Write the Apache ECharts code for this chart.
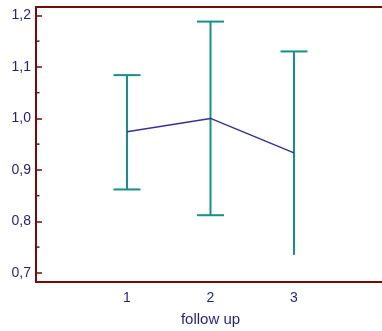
<!DOCTYPE html>
<html>
<head>
<meta charset="utf-8">
<script src="https://cdn.jsdelivr.net/npm/echarts@6/dist/echarts.min.js"></script>
<style>html,body{margin:0;padding:0;background:#fff}#c{width:382px;height:331px}</style>
</head>
<body>
<div id="c"></div>
<script>
var xValues = [1, 2, 3];
var means = [0.974, 1.000, 0.933];
var upper = [1.084, 1.188, 1.130];
var lower = [0.862, 0.812, 0.735];
var lowerCap = [true, true, false];
var yTicks = [0.7, 0.8, 0.9, 1.0, 1.1, 1.2];
var yMinorTicks = [0.75, 0.85, 0.95, 1.05, 1.15];
var xTicks = [1, 2, 3];
var xName = 'follow up';

var chart = echarts.init(document.getElementById('c'));
var labelColor = '#1f1f8a';
var axisColor = '#7a0a0a';
var barColor = '#13908c';
var lineColor = '#33339a';
var font = 'Liberation Sans, Arial, sans-serif';
var axisLineStyle = { color: axisColor, width: 2 };
var X_MIN = -0.09, X_MAX = 4.09;

var barData = xValues.map(function (x, i) { return [x, lower[i], upper[i], lowerCap[i] ? 1 : 0]; });

chart.setOption({
  animation: false,
  grid: { left: 36, right: -3, top: 7, bottom: 49, show: false, outerBoundsMode: 'none', containLabel: false },
  xAxis: [{
    type: 'value', min: X_MIN, max: X_MAX,
    name: xName, nameLocation: 'middle', nameGap: 30,
    nameTextStyle: { color: labelColor, fontSize: 15, fontFamily: font },
    axisLine: { show: true, onZero: false, lineStyle: axisLineStyle }, axisTick: { show: false }, splitLine: { show: false },
    axisLabel: { customValues: xTicks, color: labelColor, fontSize: 14, fontFamily: font, margin: 9 }
  }, {
    type: 'value', min: X_MIN, max: X_MAX, position: 'top',
    axisLine: { show: true, onZero: false, lineStyle: axisLineStyle }, axisTick: { show: false }, splitLine: { show: false },
    axisLabel: { show: false }
  }],
  yAxis: [{
    type: 'value', min: 0.6823, max: 1.2163, position: 'left',
    axisLine: { show: true, onZero: false, lineStyle: axisLineStyle }, splitLine: { show: false },
    axisTick: { show: true, inside: true, length: 6, customValues: yTicks, lineStyle: { color: axisColor, width: 1.5 } },
    axisLabel: { customValues: yTicks, color: labelColor, fontSize: 14, fontFamily: font, margin: 5,
      formatter: function (v) { return v.toFixed(1).replace('.', ','); } }
  }],
  series: [{
    type: 'custom',
    data: yMinorTicks.map(function (v) { return [X_MIN, v]; }),
    renderItem: function (params, api) {
      var p = api.coord([api.value(0), api.value(1)]);
      return { type: 'line', shape: { x1: p[0], y1: p[1], x2: p[0] + 3.5, y2: p[1] }, style: { stroke: axisColor, lineWidth: 1.5 } };
    },
    silent: true, z: 4
  }, {
    type: 'custom',
    data: barData,
    renderItem: function (params, api) {
      var top = api.coord([api.value(0), api.value(2)]);
      var bot = api.coord([api.value(0), api.value(1)]);
      var hw = 13.5;
      var st = { stroke: barColor, lineWidth: 2 };
      var children = [
        { type: 'line', shape: { x1: top[0], y1: top[1], x2: bot[0], y2: bot[1] }, style: st },
        { type: 'line', shape: { x1: top[0] - hw, y1: top[1], x2: top[0] + hw, y2: top[1] }, style: st }
      ];
      if (api.value(3)) children.push({ type: 'line', shape: { x1: bot[0] - hw, y1: bot[1], x2: bot[0] + hw, y2: bot[1] }, style: st });
      return { type: 'group', children: children };
    },
    z: 2
  }, {
    type: 'line',
    data: xValues.map(function (x, i) { return [x, means[i]]; }),
    showSymbol: false, symbol: 'none',
    lineStyle: { color: lineColor, width: 1.5 },
    z: 3
  }]
});
</script>
</body>
</html>
